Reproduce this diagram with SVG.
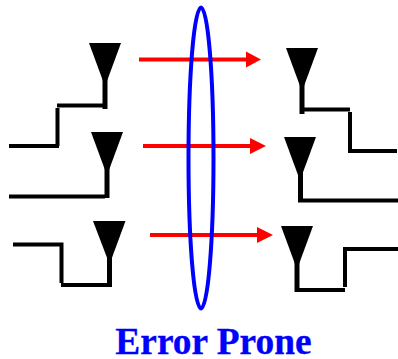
<svg xmlns="http://www.w3.org/2000/svg" width="398" height="359" viewBox="0 0 398 359">
<defs>
<style>
.wire{fill:none;stroke:#000;stroke-width:4;stroke-linejoin:miter}
.stem{fill:none;stroke:#000;stroke-width:5}
.tri{fill:#000}
.arrow{fill:none;stroke:#f00;stroke-width:4}
.head{fill:#f00}
text{font-family:"Liberation Serif","Times New Roman",serif;font-weight:bold;fill:#00f;stroke:#00f;stroke-width:.3}
</style>
</defs>
<rect width="398" height="359" fill="#fff"/>
<g id="antenna-left-1">
<polygon class="tri" points="89,43 121,43 107,81 103,81"/>
<path class="stem" d="M105,78V109"/>
<path class="wire" d="M57,105.500H105M57.500,108V146M9,146H59"/>
</g>
<g id="antenna-left-2">
<polygon class="tri" points="91,132 123,132 109,170 105,170"/>
<path class="stem" d="M107,167V198"/>
<path class="wire" d="M9,196.500H105"/>
</g>
<g id="antenna-left-3">
<polygon class="tri" points="93,221 125.500,221 111.500,259 107.500,259"/>
<path class="stem" d="M109.500,256V287"/>
<path class="wire" d="M61,285H108M61.500,283V244.500H13"/>
</g>
<g id="antenna-right-1">
<polygon class="tri" points="286,48 318,48 304,86 300,86"/>
<path class="stem" d="M302,83V114"/>
<path class="wire" d="M304,109.500H350M350,112V151M348,151H397"/>
</g>
<g id="antenna-right-2">
<polygon class="tri" points="284,137 316,137 302,175 298,175"/>
<path class="stem" d="M300.500,172V202"/>
<path class="wire" d="M298,200.500H398"/>
</g>
<g id="antenna-right-3">
<polygon class="tri" points="281,226 313,226 299,264 295,264"/>
<path class="stem" d="M297,261V292"/>
<path class="wire" d="M299,290H345M345,287V249H398"/>
</g>
<g id="connectors">
<path class="arrow" d="M139,59.500H247"/>
<polygon class="head" points="246,51.500 261,59.500 246,67.500"/>
<path class="arrow" d="M143,146H251"/>
<polygon class="head" points="250,138 266,146 250,154"/>
<path class="arrow" d="M150,235H258"/>
<polygon class="head" points="257,227 273,235 257,243"/>
</g>
<g id="ellipse">
<ellipse cx="201" cy="158" rx="12.500" ry="150.500" fill="none" stroke="#00f" stroke-width="4"/>
</g>
<g id="label">
<text x="213.500" y="354" font-size="37.400" text-anchor="middle">Error Prone</text>
</g>
</svg>
